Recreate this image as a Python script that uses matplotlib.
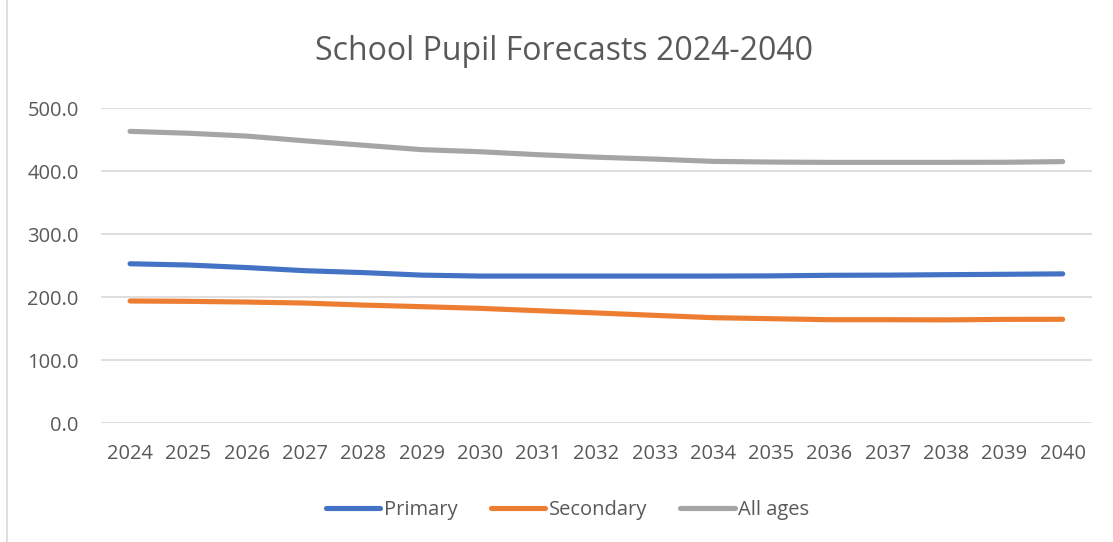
import matplotlib
matplotlib.use("Agg")
import matplotlib.pyplot as plt
from matplotlib.lines import Line2D

years = [str(y) for y in range(2024, 2041)]
primary = [253, 251, 247, 242, 239, 235, 233.5, 233.5, 233.5, 233.5, 233.5,
           233.8, 234.7, 235.0, 235.7, 236.3, 237.0]
secondary = [194, 193.4, 192.3, 190.7, 187.5, 185, 182.3, 178.6, 175, 171.2,
             167.5, 165.9, 164.3, 164.3, 164.0, 164.8, 165.0]
all_ages = [463, 460, 455.5, 448, 441, 434, 430.7, 426, 422, 419, 415.4,
            414.3, 413.8, 413.8, 413.8, 414, 415]
series_names = ["Primary", "Secondary", "All ages"]
colors = ["#4472C4", "#ED7D31", "#A5A5A5"]
title = "School Pupil Forecasts 2024-2040"

plt.rcParams["font.family"] = ["Open Sans", "DejaVu Sans"]
text_color = "#595959"

fig = plt.figure(figsize=(11.13, 5.42), dpi=100)
ax = fig.add_axes([0.0907, 0.219, 0.981 - 0.0907, 0.8007 - 0.219])

x = list(range(len(years)))
for vals, name, col in zip([primary, secondary, all_ages], series_names, colors):
    ax.plot(x, vals, color=col, lw=3.7, solid_capstyle="round",
            solid_joinstyle="round", label=name)

ax.set_xlim(-0.5, len(years) - 0.5)
ax.set_ylim(0, 500)
ax.set_yticks(range(0, 501, 100))
ax.set_yticklabels([f"{v:.1f}" for v in range(0, 501, 100)])
ax.set_xticks(x)
ax.set_xticklabels(years)
ax.tick_params(axis="both", length=0, labelsize=14.5, colors=text_color)
ax.tick_params(axis="y", pad=16)
ax.tick_params(axis="x", pad=15)
ax.grid(axis="y", color="#D9D9D9", lw=1.2)
ax.set_axisbelow(True)
for s in ax.spines.values():
    s.set_visible(False)

fig.text(0.507, 1 - 52 / 542, title, ha="center", va="center",
         fontsize=23, color=text_color)

fig.legend(loc="center", bbox_to_anchor=(0.51, 1 - 510 / 542), ncol=3,
           frameon=False, fontsize=14.5, labelcolor=text_color,
           handlelength=2.7, handletextpad=0.18, columnspacing=1.65)

# chart border on the left edge
fig.add_artist(Line2D([7 / 1113, 7 / 1113], [0, 1], transform=fig.transFigure,
                      color="#D9D9D9", lw=1.2))

fig.savefig("out.png", dpi=100)
